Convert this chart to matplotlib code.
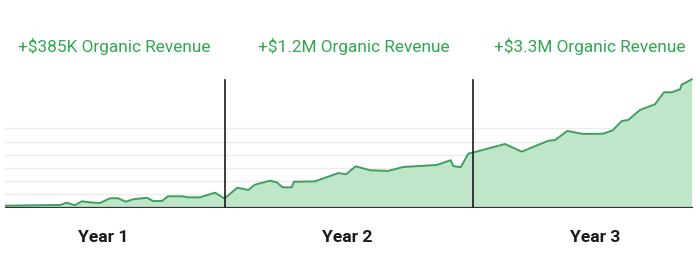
import matplotlib
matplotlib.use('Agg')
import matplotlib.pyplot as plt

# positions along the timeline and revenue index (1 unit = one gridline)
pos = [6, 60, 66.7, 75, 81.7, 90, 100, 110, 118, 126, 133, 147, 153, 162, 168, 182, 188, 200, 215, 224.5,
       237.3, 248.3, 255, 270, 276.7, 282.7, 291.7, 294, 315, 338.3, 346, 355.7, 370, 388.3, 403.3, 436.7,
       450.7, 453.3, 460.7, 468.3, 473.3,
       505, 521.7, 548.3, 555, 567.3, 583.3, 603.3, 612.7, 621.7, 628.3, 640, 655, 664, 671.7, 680, 681.7, 691.7]
revenue = [0.14, 0.19, 0.36, 0.17, 0.47, 0.39, 0.34, 0.70, 0.70, 0.44, 0.62, 0.74, 0.49, 0.49, 0.85, 0.85, 0.77, 0.77, 1.12, 0.68,
           1.50, 1.33, 1.73, 2.03, 1.91, 1.53, 1.53, 1.95, 1.98, 2.61, 2.52, 3.12, 2.82, 2.77, 3.07, 3.22,
           3.58, 3.14, 3.05, 4.08, 4.17,
           4.81, 4.23, 5.06, 5.11, 5.80, 5.57, 5.59, 5.85, 6.55, 6.63, 7.39, 7.82, 8.73, 8.73, 8.95, 9.30, 9.71]

year_breaks = [225, 473]
year_centers = [103, 347, 595]
year_labels = ['Year 1', 'Year 2', 'Year 3']
title_centers = [114, 354, 590]
titles = ['+$385K Organic Revenue', '+$1.2M Organic Revenue', '+$3.3M Organic Revenue']

line_c = '#3f9f60'
fill_c = '#bfe6c9'
text_c = '#2fa84f'

fig = plt.figure(figsize=(7, 2.64), dpi=100)
ax = fig.add_axes([0, 1 - 207.5 / 264, 1, (207.5 - 70) / 264])
ax.set_xlim(0, 700)
ax.set_ylim(0, (207.5 - 70) / 13.2)
ax.axis('off')

for g in range(1, 7):
    ax.plot([5, 690], [g, g], color='#ececec', lw=1, zorder=0)

ax.fill_between(pos, 0, revenue, color=fill_c, lw=0, zorder=1)
ax.plot(pos, revenue, color=line_c, lw=1.4, zorder=2)
ax.plot([6, 692], [0, 0], color='#333333', lw=1.6, zorder=3)

for b in year_breaks:
    ax.plot([b, b], [0, (207.5 - 80) / 13.2], color='#1a1a1a', lw=1.2, zorder=4)

for x, t in zip(title_centers, titles):
    fig.text(x / 700, 1 - 46 / 264, t, ha='center', va='center', color=text_c,
             fontsize=12.4, family='Roboto')
for x, t in zip(year_centers, year_labels):
    fig.text(x / 700, 1 - 237 / 264, t, ha='center', va='center', color='#1a1a1a',
             fontsize=12.6, fontweight='bold', family='Roboto')

fig.savefig('out.png', dpi=100)
